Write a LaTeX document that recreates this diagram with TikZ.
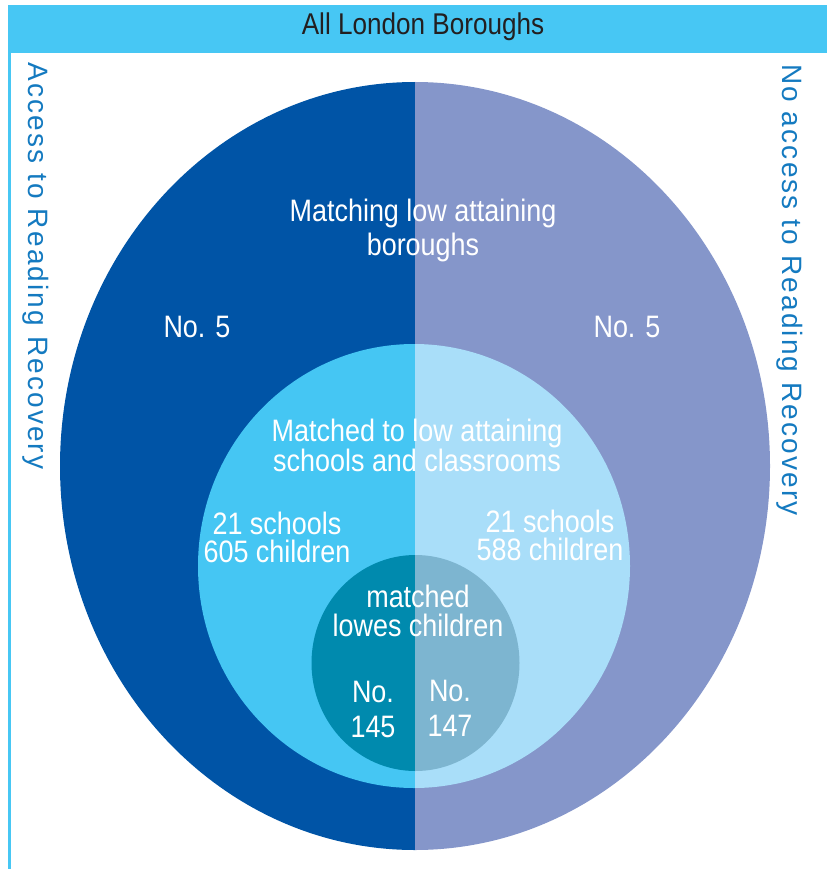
\documentclass[tikz,border=0pt]{standalone}
\usepackage{fontspec}
\setmainfont{Liberation Sans}
\newfontfamily\condfont{Liberation Sans}[FakeStretch=0.87]
\newfontfamily\spacedfont{Liberation Sans}[LetterSpace=7.7]
\definecolor{banner}{RGB}{71,199,244}
\definecolor{darkblue}{RGB}{0,84,166}
\definecolor{lavender}{RGB}{133,150,202}
\definecolor{midleft}{RGB}{69,198,243}
\definecolor{midright}{RGB}{169,222,249}
\definecolor{inleft}{RGB}{0,138,174}
\definecolor{inright}{RGB}{125,181,208}
\definecolor{sidetext}{RGB}{20,122,192}
\definecolor{titletext}{RGB}{35,31,32}
\begin{document}
\begin{tikzpicture}[x=1pt,y=-1pt,
  lbl/.style={text=white, font=\condfont\fontsize{31}{31}\selectfont, align=center, inner sep=0pt},
  sidelbl/.style={text=sidetext, font=\spacedfont\fontsize{28}{30}\selectfont, inner sep=0pt, rotate=-90},
  titlelbl/.style={text=titletext, font=\condfont\fontsize{30}{30}\selectfont, inner sep=0pt}]
\useasboundingbox (0,0) rectangle (827,869);
% banner and left rule
\fill[banner] (8,5) rectangle (827,53);
\fill[banner] (8,53) rectangle (10.5,869);
% left halves
\begin{scope}
  \clip (0,0) rectangle (415,869);
  \fill[darkblue] (415,466) ellipse [x radius=355pt, y radius=384pt];
  \fill[midleft] (414,566) ellipse [x radius=216pt, y radius=222pt];
  \fill[inleft] (415.5,663) ellipse [x radius=104pt, y radius=108pt];
\end{scope}
% right halves
\begin{scope}
  \clip (415,0) rectangle (827,869);
  \fill[lavender] (415,466) ellipse [x radius=355pt, y radius=384pt];
  \fill[midright] (414,566) ellipse [x radius=216pt, y radius=222pt];
  \fill[inright] (415.5,663) ellipse [x radius=104pt, y radius=108pt];
\end{scope}
% texts
\node[titlelbl] (title) at (423,27) {All London Boroughs};
\node[sidelbl] (leftside) at (36,266) {Access to Reading Recovery};
\node[sidelbl] (rightside) at (790,290) {No access to Reading Recovery};
\node[lbl, font=\condfont\fontsize{31}{34}\selectfont] (boroughs) at (423,230) {Matching low attaining\\boroughs};
\node[lbl] (noleft) at (197,327) {No. 5};
\node[lbl] (noright) at (627,327) {No. 5};
\node[lbl, font=\condfont\fontsize{31}{27}\selectfont] (schoolsmatch) at (417,445) {Matched to low attaining\\schools and classrooms};
\node[lbl, font=\condfont\fontsize{31}{28}\selectfont] (schoolsleft) at (277,537) {21 schools\\605 children};
\node[lbl, font=\condfont\fontsize{31}{28}\selectfont] (schoolsright) at (550,535) {21 schools\\588 children};
\node[lbl, font=\condfont\fontsize{31}{28.5}\selectfont] (children) at (418,611) {matched\\lowes children};
\node[lbl, font=\condfont\fontsize{31}{35}\selectfont] (innerleft) at (373,709) {No.\\145};
\node[lbl, font=\condfont\fontsize{31}{35}\selectfont] (innerright) at (450,708) {No.\\147};
\end{tikzpicture}
\end{document}
